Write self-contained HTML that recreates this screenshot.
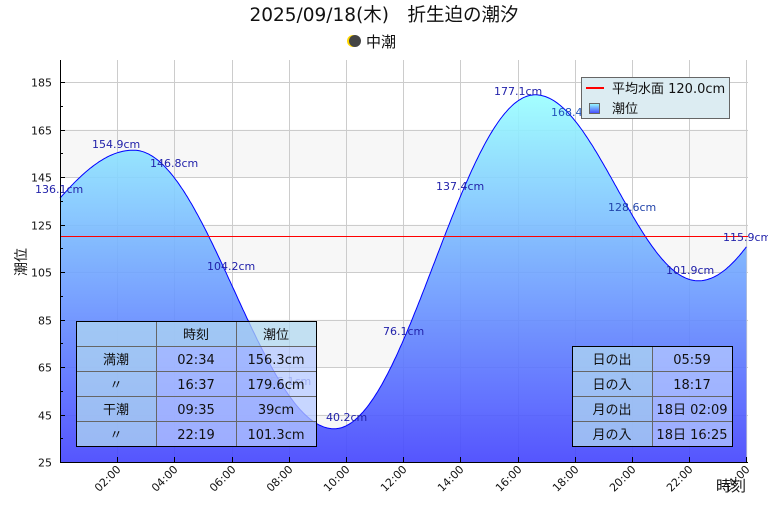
<!DOCTYPE html>
<html><head><meta charset="utf-8"><style>
body{margin:0;background:#fff;width:768px;height:512px;overflow:hidden;font-family:"Liberation Sans","Noto Sans CJK JP",sans-serif}
svg text{font-family:"DejaVu Sans","Noto Sans CJK JP",sans-serif}
</style></head><body>
<svg id="s" width="768" height="512" xmlns="http://www.w3.org/2000/svg">
<defs>
<linearGradient id="g" x1="0" y1="95" x2="0" y2="462" gradientUnits="userSpaceOnUse">
<stop offset="0" stop-color="#99ffff"/><stop offset="1" stop-color="#4444ff"/></linearGradient>
<linearGradient id="lg" x1="0" y1="0" x2="0" y2="1"><stop offset="0" stop-color="#99ffff"/><stop offset="1" stop-color="#4444ff"/></linearGradient>
</defs>
<text x="384" y="21" font-size="18.5" text-anchor="middle" fill="#111">2025/09/18(木)　折生迫の潮汐</text>
<circle cx="353" cy="41" r="6" fill="#ffd700"/><circle cx="355" cy="41" r="6" fill="#444"/>
<text x="366" y="47" font-size="15" fill="#111">中潮</text>
<g fill="#f7f7f7">
<rect x="60" y="129.5" width="688" height="47.5"/><rect x="60" y="224.5" width="688" height="47.5"/>
<rect x="60" y="319.5" width="688" height="47.5"/><rect x="60" y="414.5" width="688" height="47.5"/>
</g>
<g id="grid" stroke="#cccccc" stroke-width="1"></g>
<path id="area" fill="url(#g)" fill-opacity="0.9" stroke="none"/>
<path id="line" fill="none" stroke="#0000ff" stroke-width="1"/>
<line x1="60" y1="236.5" x2="748" y2="236.5" stroke="#ff0000" stroke-width="1"/>
<line x1="60.5" y1="60" x2="60.5" y2="462" stroke="#000"/>
<line x1="60" y1="462.5" x2="748" y2="462.5" stroke="#000"/>
<g id="ticks" stroke="#000"></g>
<g id="labels" font-size="11"></g>
<text x="26" y="262" font-size="14" fill="#111" transform="rotate(-90 26 262)" text-anchor="middle">潮位</text>
<text x="716" y="491" font-size="15" fill="#111">時刻</text>
<g font-size="11" fill="#2222aa">
<text x="35" y="193">136.1cm</text><text x="92" y="148">154.9cm</text><text x="150" y="167">146.8cm</text>
<text x="207" y="270">104.2cm</text><text x="270" y="385" fill="#6666cc">55.1cm</text><text x="326" y="421">40.2cm</text>
<text x="383" y="335">76.1cm</text><text x="436" y="190">137.4cm</text><text x="494" y="95">177.1cm</text>
<text x="551" y="116" fill="#2255bb">168.4cm</text><text x="608" y="211" fill="#2244aa">128.6cm</text><text x="666" y="274">101.9cm</text>
<text x="723" y="241">115.9cm</text>
</g>
<rect x="581.5" y="77.5" width="148" height="41" fill="#dcecf2" stroke="#666"/>
<line x1="586" y1="88" x2="604" y2="88" stroke="#f00" stroke-width="2"/>
<text x="612" y="93" font-size="13" fill="#111">平均水面 120.0cm</text>
<rect x="589.5" y="103.5" width="10" height="10" fill="url(#lg)" stroke="#666"/>
<text x="612" y="113" font-size="13" fill="#111">潮位</text>
<g font-size="13" fill="#111" text-anchor="middle">
<rect x="76.5" y="321.5" width="80" height="125" fill="#b0d8f0" fill-opacity="0.75"/>
<rect x="156.5" y="321.5" width="160" height="25" fill="#b0d8f0" fill-opacity="0.75"/>
<rect x="156.5" y="346.5" width="160" height="100" fill="#b4c8ff" fill-opacity="0.75"/>
<g stroke="#666" fill="none"><line x1="76" y1="346.5" x2="316" y2="346.5"/><line x1="76" y1="371.5" x2="316" y2="371.5"/><line x1="76" y1="396.5" x2="316" y2="396.5"/><line x1="76" y1="421.5" x2="316" y2="421.5"/><line x1="156.5" y1="321" x2="156.5" y2="446"/><line x1="236.5" y1="321" x2="236.5" y2="446"/></g>
<rect x="76.5" y="321.5" width="240" height="125" fill="none" stroke="#000"/>
<text x="196" y="339">時刻</text><text x="276" y="339">潮位</text>
<text x="116" y="364">満潮</text><text x="196" y="364">02:34</text><text x="276" y="364">156.3cm</text>
<text x="116" y="389">〃</text><text x="196" y="389">16:37</text><text x="276" y="389">179.6cm</text>
<text x="116" y="414">干潮</text><text x="196" y="414">09:35</text><text x="276" y="414">39cm</text>
<text x="116" y="439">〃</text><text x="196" y="439">22:19</text><text x="276" y="439">101.3cm</text>
<rect x="572.5" y="346.5" width="80" height="100" fill="#b0d8f0" fill-opacity="0.75"/>
<rect x="652.5" y="346.5" width="80" height="100" fill="#b4c8ff" fill-opacity="0.75"/>
<g stroke="#666"><line x1="572" y1="371.5" x2="732" y2="371.5"/><line x1="572" y1="396.5" x2="732" y2="396.5"/><line x1="572" y1="421.5" x2="732" y2="421.5"/><line x1="652.5" y1="346" x2="652.5" y2="446"/></g>
<rect x="572.5" y="346.5" width="160" height="100" fill="none" stroke="#000"/>
<text x="612" y="364">日の出</text><text x="692" y="364">05:59</text>
<text x="612" y="389">日の入</text><text x="692" y="389">18:17</text>
<text x="612" y="414">月の出</text><text x="692" y="414">18日 02:09</text>
<text x="612" y="439">月の入</text><text x="692" y="439">18日 16:25</text>
</g>
</svg>
<script>
var NS="http://www.w3.org/2000/svg";
function X(t){return 60+t*28.6;}function Y(v){return 462-(v-25)*2.375;}
var ex=[[-3.933,96.5],[2.567,156.3],[9.583,39],[16.617,179.6],[22.317,101.3],[28.317,180]];
function h(t){for(var i=0;i<ex.length-1;i++){var a=ex[i],b=ex[i+1];if(t>=a[0]&&t<=b[0]){return (a[1]+b[1])/2+(a[1]-b[1])/2*Math.cos(Math.PI*(t-a[0])/(b[0]-a[0]));}}return 0;}
var d="",pts=[];for(var t=0;t<=24.0001;t+=0.05){pts.push(X(t).toFixed(1)+","+Y(h(t)).toFixed(1));}
d="M"+pts.join(" L");
document.getElementById("line").setAttribute("d",d);
document.getElementById("area").setAttribute("d",d+" L"+X(24).toFixed(1)+",462 L60,462 Z");
var g=document.getElementById("grid"),tk=document.getElementById("ticks"),lb=document.getElementById("labels");
function ln(p,x1,y1,x2,y2){var l=document.createElementNS(NS,"line");l.setAttribute("x1",x1);l.setAttribute("y1",y1);l.setAttribute("x2",x2);l.setAttribute("y2",y2);p.appendChild(l);}
function tx(x,y,s,tr,anc){var e=document.createElementNS(NS,"text");e.setAttribute("x",x);e.setAttribute("y",y);e.textContent=s;e.setAttribute("fill","#111");if(tr)e.setAttribute("transform",tr);if(anc)e.setAttribute("text-anchor",anc);lb.appendChild(e);}
for(var v=45;v<=185;v+=20){var y=Math.round(Y(v))+0.5;ln(g,60,y,748,y);}
for(var v=25;v<=185;v+=20){var y=Math.round(Y(v))+0.5;ln(tk,60,y,65,y);tx(52,y+4,""+v,null,"end");if(v<185){var y2=Math.round(Y(v+10))+0.5;ln(tk,60,y2,63,y2);}}
for(var hr=2;hr<=24;hr+=2){var x=Math.round(X(hr))+0.5;ln(g,x,60,x,462);ln(tk,x,462,x,457);var s=(hr<10?"0":"")+hr+":00";tx(x+4,470,s,"rotate(-45 "+(x+4)+" 470)","end");}
</script>
</body></html>
